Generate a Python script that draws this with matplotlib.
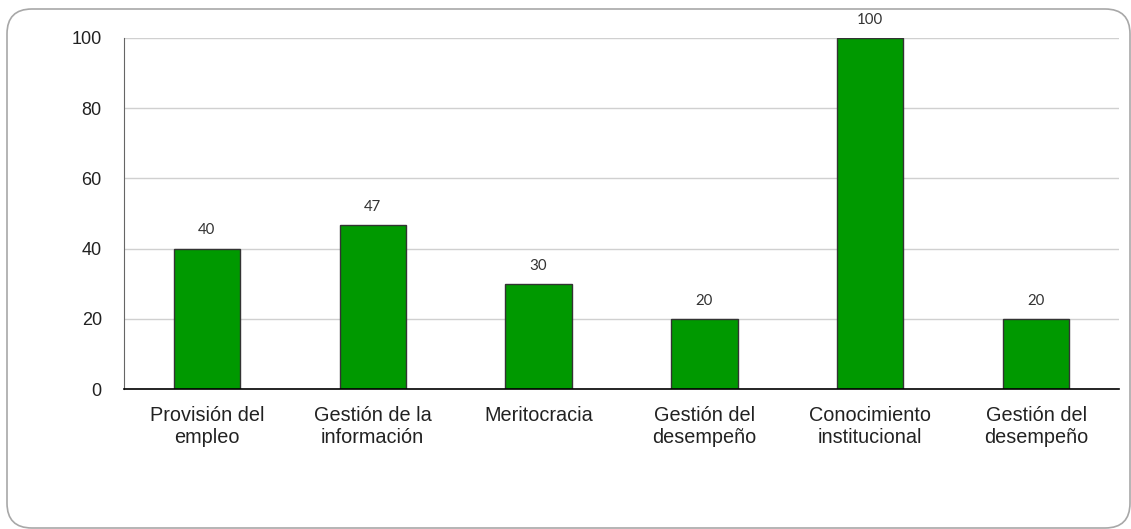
import matplotlib
matplotlib.use("Agg")
import matplotlib.pyplot as plt
from matplotlib.patches import FancyBboxPatch

categories = ["Provisión del\nempleo", "Gestión de la\ninformación", "Meritocracia",
              "Gestión del\ndesempeño", "Conocimiento\ninstitucional", "Gestión del\ndesempeño"]
values = [40, 46.7, 30, 20, 100, 20]
labels = ["40", "47", "30", "20", "100", "20"]
yticks = [0, 20, 40, 60, 80, 100]

fig = plt.figure(figsize=(11.31, 5.29), dpi=100)
fig.patch.set_facecolor("white")

border = FancyBboxPatch((7 / 1131, 1 / 529), 1123 / 1131, 519 / 529,
                        boxstyle="round,pad=0,rounding_size=0.022",
                        transform=fig.transFigure, facecolor="none",
                        edgecolor="#a8a8a8", linewidth=1.2,
                        mutation_aspect=1131 / 529, zorder=-5)
fig.patches.append(border)

ax = fig.add_axes([124 / 1131, 140 / 529, 995 / 1131, 351 / 529])
ax.set_facecolor("none")
x = list(range(len(categories)))
bars = ax.bar(x, values, width=0.4, color="#009900", edgecolor="#333333", linewidth=1.0, zorder=3)
for xi, v, lab in zip(x, values, labels):
    ax.annotate(lab, (xi, v), xytext=(0, 8), textcoords="offset points",
                ha="center", va="bottom", fontsize=10.8, color="#333333", family="Lato")

ax.set_xlim(-0.5, len(categories) - 0.5)
ax.set_ylim(0, 100)
ax.set_yticks(yticks)
ax.set_yticklabels([str(t) for t in yticks], fontsize=13, family="Liberation Sans", color="#222222")
ax.set_xticks(x)
ax.set_xticklabels(categories, fontsize=14.3, family="Liberation Sans", color="#222222", linespacing=1.2)
ax.tick_params(axis="both", length=0)
ax.tick_params(axis="y", pad=16)
ax.tick_params(axis="x", pad=12)
ax.grid(axis="y", color="#d0d0d0", linewidth=1.0, zorder=0)
for s in ["top", "right"]:
    ax.spines[s].set_visible(False)
ax.spines["left"].set_color("#666666")
ax.spines["bottom"].set_color("#000000")
ax.spines["bottom"].set_linewidth(1.2)
ax.spines["bottom"].set_zorder(4)

fig.savefig("out.png", dpi=100)
